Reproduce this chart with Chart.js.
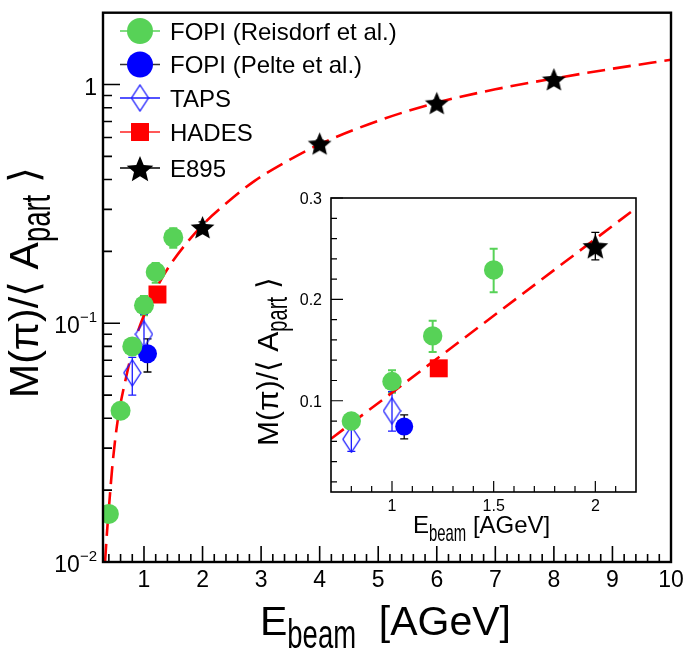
<!DOCTYPE html>
<html>
<head>
<meta charset="utf-8">
<script src="https://cdn.jsdelivr.net/npm/chart.js@4.4.1/dist/chart.umd.min.js"></script>
<style>
  html, body { margin: 0; padding: 0; background: #fff; }
  #wrap { position: relative; width: 685px; height: 650px; }
  #wrap canvas { position: absolute; left: 0; top: 0; }
</style>
</head>
<body>
<div id="wrap">
  <canvas id="mainChart" width="685" height="650"></canvas>
  <canvas id="insetChart" width="685" height="650"></canvas>
</div>
<script>
// Pion multiplicity per participant vs beam energy (main: log scale, inset: linear zoom)

const FONT = "'Liberation Sans', Arial, Helvetica, sans-serif";
const GREEN = '#57d257';

// ---- data ----
const reisdorfE  = [0.4, 0.6, 0.8, 1.0, 1.2, 1.5];
const reisdorfM  = [0.0159, 0.043, 0.080, 0.119, 0.164, 0.229];
const reisdorfLo = [0.0152, 0.041, 0.077, 0.108, 0.148, 0.207];
const reisdorfHi = [0.0167, 0.045, 0.083, 0.130, 0.179, 0.250];

const peltE  = [1.06];
const peltM  = [0.0745];
const peltLo = [0.0625];
const peltHi = [0.086];

const tapsE  = [0.8, 1.0];
const tapsM  = [0.062, 0.090];
const tapsLo = [0.050, 0.070];
const tapsHi = [0.072, 0.109];

const hadesE = [1.23];
const hadesM = [0.132];

const e895E  = [2, 4, 6, 8];
const e895M  = [0.252, 0.565, 0.835, 1.05];
const e895Lo = [0.239, 0.545, 0.81, 1.02];
const e895Hi = [0.266, 0.585, 0.86, 1.08];

// dashed red curve (main panel)
const curveE = [0.335, 0.37, 0.41, 0.465, 0.55, 0.705, 0.85, 1.0, 1.23, 1.47, 2.0, 2.43, 2.89, 3.46, 3.97, 5.0, 6.0, 7.0, 8.0, 9.0, 10.0];
const curveM = [0.0100, 0.0135, 0.018, 0.026, 0.039, 0.061, 0.085, 0.108, 0.143, 0.179, 0.258, 0.322, 0.395, 0.480, 0.558, 0.705, 0.84, 0.955, 1.06, 1.165, 1.27];

// dashed red line (inset)
const insetLineE = [0.7, 2.2];
const insetLineM = [0.0625, 0.290];

// ticks
const mainXTicks = [1, 2, 3, 4, 5, 6, 7, 8, 9, 10];
const mainYTicks = [0.01, 0.1, 1];
const mainYTickLabels = [['10', '\u22122'], ['10', '\u22121'], ['1', '']];
const insetXTicks = [1, 1.5, 2];
const insetXTickLabels = ['1', '1.5', '2'];
const insetYTicks = [0.1, 0.2, 0.3];
const insetYTickLabels = ['0.1', '0.2', '0.3'];

const legendLabels = ['FOPI (Reisdorf et al.)', 'FOPI (Pelte et al.)', 'TAPS', 'HADES', 'E895'];

// ---- marker images ----
function makeStar(size, color) {
  const c = document.createElement('canvas');
  c.width = size; c.height = size;
  const g = c.getContext('2d');
  const R = size / 2, r = R * 0.45;
  g.beginPath();
  for (let i = 0; i < 10; i++) {
    const ang = -Math.PI / 2 + i * Math.PI / 5;
    const rad = i % 2 === 0 ? R : r;
    g.lineTo(R + rad * Math.cos(ang), R + 1 + rad * Math.sin(ang));
  }
  g.closePath();
  g.fillStyle = color;
  g.fill();
  return c;
}

function makeDiamond(w, h, color) {
  const c = document.createElement('canvas');
  c.width = w + 2; c.height = h + 2;
  const g = c.getContext('2d');
  g.beginPath();
  g.moveTo(w / 2 + 1, 1);
  g.lineTo(w + 1, h / 2 + 1);
  g.lineTo(w / 2 + 1, h + 1);
  g.lineTo(1, h / 2 + 1);
  g.closePath();
  g.strokeStyle = color;
  g.lineWidth = 1.3;
  g.stroke();
  return c;
}

const starMain = makeStar(25, '#000');
const starInset = makeStar(27, '#000');
const starLegend = makeStar(28, '#000');
const diamondMain = makeDiamond(17, 26, '#1a1aff');
const diamondLegend = makeDiamond(17, 26, '#1a1aff');

function pts(xs, ys) {
  return xs.map((x, i) => ({ x: x, y: ys[i] }));
}

// ---- helpers ----
function drawRich(ctx, x, y, rot, segs, align) {
  let total = 0;
  segs.forEach(s => { ctx.font = s.font; total += ctx.measureText(s.t).width * (s.sx || 1); });
  ctx.save();
  ctx.translate(x, y);
  ctx.rotate(rot);
  let u = align === 'right' ? -total : (align === 'center' ? -total / 2 : 0);
  segs.forEach(s => {
    ctx.font = s.font;
    const w = ctx.measureText(s.t).width * (s.sx || 1);
    ctx.save();
    ctx.translate(u, s.dy || 0);
    ctx.scale(s.sx || 1, 1);
    ctx.textAlign = 'left';
    ctx.textBaseline = 'alphabetic';
    ctx.fillStyle = '#000';
    ctx.fillText(s.t, 0, 0);
    ctx.restore();
    u += w;
  });
  ctx.restore();
}

function tickLines(ctx, scale, values, axis, area, len) {
  values.forEach(v => {
    const p = scale.getPixelForValue(v);
    if (axis === 'x') {
      if (p < area.left - 0.5 || p > area.right + 0.5) return;
      ctx.moveTo(p, area.bottom);
      ctx.lineTo(p, area.bottom - len);
    } else {
      if (p < area.top - 0.5 || p > area.bottom + 0.5) return;
      ctx.moveTo(area.left, p);
      ctx.lineTo(area.left + len, p);
    }
  });
}

function range(a, b, step) {
  const out = [];
  for (let v = a; v <= b + 1e-9; v += step) out.push(Math.round(v * 1000) / 1000);
  return out;
}

// ---- error bars (drawn beneath markers) ----
const errorBars = {
  id: 'errorBars',
  beforeDatasetsDraw(chart) {
    const ctx = chart.ctx, a = chart.chartArea;
    const xs = chart.scales.x, ys = chart.scales.y;
    ctx.save();
    ctx.beginPath();
    ctx.rect(a.left, a.top, a.right - a.left, a.bottom - a.top);
    ctx.clip();
    chart.data.datasets.forEach(ds => {
      if (!ds.errLo) return;
      ctx.strokeStyle = ds.errColor;
      ctx.lineWidth = ds.errWidth || 1.5;
      ds.data.forEach((p, i) => {
        const px = xs.getPixelForValue(p.x);
        const y1 = ys.getPixelForValue(ds.errLo[i]);
        const y2 = ys.getPixelForValue(ds.errHi[i]);
        ctx.beginPath();
        ctx.moveTo(px, y1); ctx.lineTo(px, y2);
        ctx.moveTo(px - 4, y1); ctx.lineTo(px + 4, y1);
        ctx.moveTo(px - 4, y2); ctx.lineTo(px + 4, y2);
        ctx.stroke();
      });
    });
    ctx.restore();
  }
};

// ---- main panel decoration: frame, inward ticks, labels, titles, legend ----
const mainDecor = {
  id: 'mainDecor',
  afterDraw(chart) {
    const ctx = chart.ctx, a = chart.chartArea;
    const xs = chart.scales.x, ys = chart.scales.y;
    ctx.save();
    ctx.strokeStyle = '#000';
    ctx.lineWidth = 1.6;
    ctx.beginPath();
    tickLines(ctx, xs, mainXTicks, 'x', a, 16);
    tickLines(ctx, xs, range(0.4, 9.8, 0.2).filter(v => Math.abs(v - Math.round(v)) > 0.01), 'x', a, 8);
    tickLines(ctx, ys, mainYTicks, 'y', a, 17);
    const yMinor = [];
    [0.01, 0.1, 1].forEach(d => { for (let k = 2; k <= 9; k++) yMinor.push(k * d); });
    tickLines(ctx, ys, yMinor.filter(v => v < 2), 'y', a, 9);
    ctx.stroke();

    ctx.lineWidth = 2.4;
    ctx.strokeRect(a.left, a.top, a.right - a.left, a.bottom - a.top);

    // x tick labels
    ctx.fillStyle = '#000';
    ctx.font = '23px ' + FONT;
    ctx.textAlign = 'center';
    ctx.textBaseline = 'alphabetic';
    mainXTicks.forEach(v => ctx.fillText(String(v), xs.getPixelForValue(v), a.bottom + 25));

    // y tick labels
    mainYTicks.forEach((v, i) => {
      const p = ys.getPixelForValue(v);
      const lab = mainYTickLabels[i];
      drawRich(ctx, 97, p + 10, 0, [
        { t: lab[0], font: '23px ' + FONT },
        { t: lab[1], font: '15px ' + FONT, dy: -11 }
      ], 'right');
    });

    // axis titles
    drawRich(ctx, 260, 635, 0, [
      { t: 'E', font: '41px ' + FONT },
      { t: 'beam', font: '41px ' + FONT, dy: 13, sx: 0.67 },
      { t: '  [AGeV]', font: '41px ' + FONT }
    ]);
    drawRich(ctx, 38, 398, -Math.PI / 2, [
      { t: 'M(\u03c0)/\u27e8 A', font: '41px ' + FONT },
      { t: 'part', font: '41px ' + FONT, dy: 12, sx: 0.67 },
      { t: ' \u27e9', font: '41px ' + FONT }
    ]);

    // legend
    const rows = [31, 64.5, 98, 132, 168];
    const legendStyle = [
      { line: GREEN, style: 'circle', r: 13, fill: GREEN },
      { line: '#333', style: 'circle', r: 13, fill: '#0000ff' },
      { line: '#1a1aff', style: diamondLegend, r: 13, fill: '#1a1aff' },
      { line: '#ff2020', style: 'rect', r: 12.7, fill: '#ff0000' },
      { line: '#000', style: starLegend, r: 13, fill: '#000' }
    ];
    legendLabels.forEach((txt, i) => {
      const y = rows[i], st = legendStyle[i];
      ctx.strokeStyle = st.line;
      ctx.lineWidth = 1.5;
      ctx.beginPath();
      ctx.moveTo(120, y); ctx.lineTo(160, y);
      ctx.stroke();
      ctx.fillStyle = st.fill;
      Chart.helpers.drawPoint(ctx, { pointStyle: st.style, radius: st.r, rotation: 0, borderWidth: 0 }, 140, i === 4 ? y + 1 : y);
      ctx.fillStyle = '#000';
      ctx.font = '24px ' + FONT;
      ctx.textAlign = 'left';
      ctx.textBaseline = 'alphabetic';
      ctx.fillText(txt, 170, y + 8.5);
    });
    ctx.restore();
  }
};

// ---- inset decoration ----
const insetDecor = {
  id: 'insetDecor',
  beforeDraw(chart) {
    const ctx = chart.ctx, a = chart.chartArea;
    ctx.save();
    ctx.fillStyle = '#fff';
    ctx.fillRect(a.left, a.top, a.right - a.left, a.bottom - a.top);
    ctx.restore();
  },
  afterDraw(chart) {
    const ctx = chart.ctx, a = chart.chartArea;
    const xs = chart.scales.x, ys = chart.scales.y;
    ctx.save();
    ctx.strokeStyle = '#000';
    ctx.lineWidth = 1.2;
    ctx.beginPath();
    tickLines(ctx, xs, insetXTicks, 'x', a, 11);
    tickLines(ctx, xs, range(0.8, 2.1, 0.1).filter(v => !insetXTicks.includes(v)), 'x', a, 6);
    tickLines(ctx, ys, insetYTicks, 'y', a, 12);
    tickLines(ctx, ys, range(0.02, 0.28, 0.02).filter(v => Math.abs(v * 10 - Math.round(v * 10)) > 0.01), 'y', a, 6);
    ctx.stroke();

    ctx.lineWidth = 1.6;
    ctx.strokeRect(a.left, a.top, a.right - a.left, a.bottom - a.top);

    ctx.fillStyle = '#000';
    ctx.font = '16px ' + FONT;
    ctx.textAlign = 'center';
    ctx.textBaseline = 'alphabetic';
    insetXTicks.forEach((v, i) => ctx.fillText(insetXTickLabels[i], xs.getPixelForValue(v), a.bottom + 19));
    ctx.textAlign = 'right';
    insetYTicks.forEach((v, i) => ctx.fillText(insetYTickLabels[i], 322, ys.getPixelForValue(v) + 6));

    drawRich(ctx, 413, 533, 0, [
      { t: 'E', font: '24px ' + FONT },
      { t: 'beam', font: '24px ' + FONT, dy: 8, sx: 0.62 },
      { t: ' [AGeV]', font: '24px ' + FONT }
    ]);
    drawRich(ctx, 278, 446, -Math.PI / 2, [
      { t: 'M(\u03c0)/\u27e8 A', font: '30px ' + FONT },
      { t: 'part', font: '30px ' + FONT, dy: 9, sx: 0.67 },
      { t: ' \u27e9', font: '30px ' + FONT }
    ]);
    ctx.restore();
  }
};

// ---- datasets ----
function pointSets(sizes) {
  return [
    { label: legendLabels[0], data: pts(reisdorfE, reisdorfM), pointStyle: 'circle', pointRadius: sizes.circle,
      backgroundColor: GREEN, borderWidth: 0, order: 1,
      errLo: reisdorfLo, errHi: reisdorfHi, errColor: GREEN, errWidth: 2 },
    { label: legendLabels[1], data: pts(peltE, peltM), pointStyle: 'circle', pointRadius: sizes.blue,
      backgroundColor: '#0000ff', borderWidth: 0, order: 2,
      errLo: peltLo, errHi: peltHi, errColor: '#000', errWidth: 1.3 },
    { label: legendLabels[2], data: pts(tapsE, tapsM), pointStyle: diamondMain, pointRadius: 10,
      backgroundColor: 'rgba(0,0,0,0)', borderWidth: 0, order: 3,
      errLo: tapsLo, errHi: tapsHi, errColor: '#1a1aff', errWidth: 1.3 },
    { label: legendLabels[3], data: pts(hadesE, hadesM), pointStyle: 'rect', pointRadius: 12.7,
      backgroundColor: '#ff0000', borderWidth: 0, order: 4 },
    { label: legendLabels[4], data: pts(e895E, e895M), pointStyle: sizes.star, pointRadius: 12,
      backgroundColor: '#000', borderWidth: 0, order: 5,
      errLo: e895Lo, errHi: e895Hi, errColor: '#000', errWidth: 1.3 }
  ];
}

new Chart(document.getElementById('mainChart'), {
  type: 'scatter',
  data: {
    datasets: pointSets({ circle: 10, blue: 9.5, star: starMain }).concat([{
      label: 'fit',
      data: pts(curveE, curveM),
      showLine: true,
      borderColor: '#ff0000',
      borderWidth: 2.6,
      borderDash: [18, 8],
      pointRadius: 0,
      cubicInterpolationMode: 'monotone',
      order: 10
    }])
  },
  options: {
    responsive: false,
    animation: false,
    devicePixelRatio: 1,
    layout: { padding: { left: 103, top: 2, right: 14, bottom: 88 } },
    scales: {
      x: { type: 'linear', min: 0.3, max: 10, display: false },
      y: { type: 'logarithmic', min: 0.01, max: 2, display: false }
    },
    plugins: { legend: { display: false }, tooltip: { enabled: false } }
  },
  plugins: [errorBars, mainDecor]
});

new Chart(document.getElementById('insetChart'), {
  type: 'scatter',
  data: {
    datasets: pointSets({ circle: 9.7, blue: 9, star: starInset }).concat([{
      label: 'fit',
      data: pts(insetLineE, insetLineM),
      showLine: true,
      borderColor: '#ff0000',
      borderWidth: 2.6,
      borderDash: [16, 8],
      pointRadius: 0,
      order: 10
    }])
  },
  options: {
    responsive: false,
    animation: false,
    devicePixelRatio: 1,
    layout: { padding: { left: 331, top: 198, right: 49, bottom: 158 } },
    scales: {
      x: { type: 'linear', min: 0.7, max: 2.2, display: false },
      y: { type: 'linear', min: 0.01, max: 0.3, display: false }
    },
    plugins: { legend: { display: false }, tooltip: { enabled: false } }
  },
  plugins: [errorBars, insetDecor]
});
</script>
</body>
</html>
